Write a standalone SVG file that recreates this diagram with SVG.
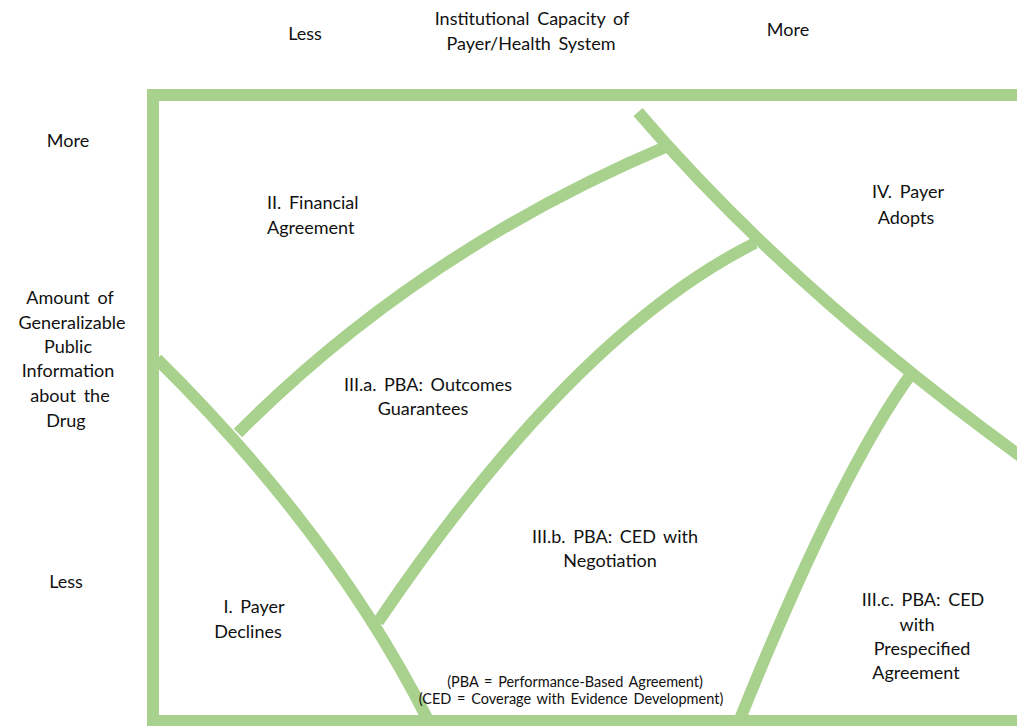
<svg xmlns="http://www.w3.org/2000/svg" width="1017" height="726" viewBox="0 0 1017 726">
  <style>
    .band { fill: none; stroke: #a9d18e; stroke-width: 12; stroke-linecap: butt; stroke-linejoin: miter; }
    text { font-family: Lato, "Liberation Sans", sans-serif; font-size: 18px; fill: #111; word-spacing: 3px; }
    .mid { text-anchor: middle; }
    .note { font-size: 14.5px; word-spacing: 2px; }
  </style>
  <rect width="1017" height="726" fill="#ffffff"/>

  <!-- axis labels -->
  <g id="axis-x">
    <text class="mid" x="305" y="40">Less</text>
    <text class="mid" x="532" y="25">Institutional Capacity of</text>
    <text class="mid" x="531" y="50">Payer/Health System</text>
    <text class="mid" x="788" y="36">More</text>
  </g>
  <g id="axis-y">
    <text class="mid" x="68" y="147">More</text>
    <text class="mid" x="70" y="304">Amount of</text>
    <text class="mid" x="72" y="329">Generalizable</text>
    <text class="mid" x="68" y="353">Public</text>
    <text class="mid" x="68" y="377">Information</text>
    <text class="mid" x="70" y="402">about the</text>
    <text class="mid" x="66" y="427">Drug</text>
    <text class="mid" x="66" y="588">Less</text>
  </g>

  <!-- frame and dividing bands -->
  <g id="connectors">
    <path class="band" d="M1030,95 H153 V721 H1030"/>
    <path class="band" d="M157,359 Q335,535 429,722"/>
    <path class="band" d="M238,433 Q420,250 670,145"/>
    <path class="band" d="M638,112 Q790,290 1030,463"/>
    <path class="band" d="M378,622 Q572,335 755,243"/>
    <path class="band" d="M738,724 Q840,470 914,370"/>
  </g>

  <!-- regions -->
  <g id="region-ii">
    <text x="267" y="209">II. Financial</text>
    <text x="267" y="234">Agreement</text>
  </g>
  <g id="region-iv">
    <text class="mid" x="908" y="198">IV. Payer</text>
    <text class="mid" x="906" y="224">Adopts</text>
  </g>
  <g id="region-iiia">
    <text class="mid" x="428" y="391">III.a. PBA: Outcomes</text>
    <text class="mid" x="423" y="415">Guarantees</text>
  </g>
  <g id="region-iiib">
    <text class="mid" x="615" y="543">III.b. PBA: CED with</text>
    <text class="mid" x="610" y="567">Negotiation</text>
  </g>
  <g id="region-i">
    <text class="mid" x="254" y="613">I. Payer</text>
    <text class="mid" x="248" y="638">Declines</text>
  </g>
  <g id="region-iiic">
    <text class="mid" x="923" y="606">III.c. PBA: CED</text>
    <text class="mid" x="917" y="631">with</text>
    <text class="mid" x="922" y="655">Prespecified</text>
    <text class="mid" x="916" y="679">Agreement</text>
  </g>
  <g id="legend">
    <text class="mid note" x="575" y="687">(PBA = Performance-Based Agreement)</text>
    <text class="mid note" x="571" y="704">(CED = Coverage with Evidence Development)</text>
  </g>
</svg>
